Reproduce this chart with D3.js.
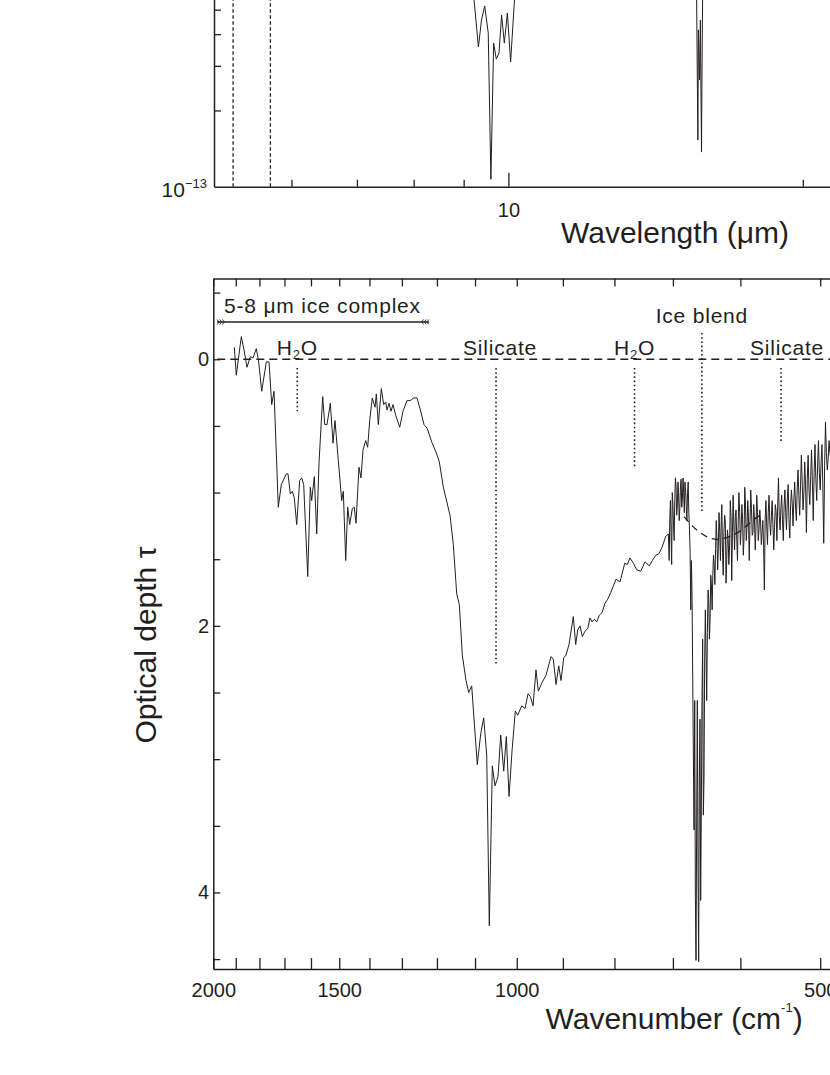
<!DOCTYPE html>
<html>
<head>
<meta charset="utf-8">
<script src="https://cdn.jsdelivr.net/npm/d3@7"></script>
<style>
  body { margin: 0; background: #fff; }
  svg { display: block; }
  text { font-family: 'Liberation Sans', Arial, sans-serif; fill: #231f20; }
</style>
</head>
<body>
<svg id="chart" width="830" height="1075"></svg>
<script>
(function(){
// ---- top panel: flux spectrum (only the deepest dips reach the visible part)
var wavelengthTicks = [6, 7, 8, 9, 10, 20];
var wavelengthLabels = [10];
var fluxTicks = [2e-13, 3e-13, 4e-13, 5e-13];
var markerLambda = [5.23, 5.71];
var silicateLambda = [9.203, 9.318, 9.386, 9.457, 9.536, 9.596, 9.658, 9.719, 9.781, 9.841, 9.904, 9.976, 10.052, 10.159];
var silicateFlux = [5.98, 3.56, 4.55, 5.17, 4.05, 1.07, 3.69, 3.19, 3.37, 4.76, 3.69, 4.85, 3.11, 5.98];
var co2Lambda = [15.574, 15.604, 15.622, 15.640, 15.685, 15.714, 15.755, 15.777, 15.799];
var co2Flux = [5.98, 2.45, 1.53, 4.16, 2.64, 4.55, 1.37, 3.16, 5.98];

// ---- bottom panel: optical depth
var wavenumberTicks = [2000, 1900, 1800, 1700, 1600, 1500, 1400, 1300, 1200, 1100, 1000, 900, 800, 700, 600, 500];
var wavenumberLabels = [2000, 1500, 1000, 500];
var tauTicks = [-0.5, 0, 0.5, 1, 1.5, 2, 2.5, 3, 3.5, 4, 4.5];
var tauLabels = [0, 2, 4];

var wavenumber = [1906.3, 1897.6, 1876.1, 1864.5, 1851.8, 1837.9, 1826.6, 1812.9, 1803.0, 1790.7,
  1771.9, 1761.0, 1750.2, 1741.0, 1724.0, 1712.3, 1692.8, 1686.2, 1677.4, 1669.8,
  1662.2, 1653.1, 1641.8, 1634.3, 1626.9, 1612.0, 1602.5, 1597.4, 1587.9, 1579.2,
  1571.0, 1557.8, 1550.6, 1542.5, 1530.9, 1521.5, 1514.6, 1503.2, 1491.6, 1486.1,
  1478.0, 1471.3, 1464.6, 1455.9, 1449.3, 1443.7, 1433.8, 1427.3, 1420.7, 1412.0,
  1405.6, 1399.2, 1390.9, 1382.3, 1378.2, 1371.9, 1362.6, 1355.1, 1348.9, 1345.0,
  1338.8, 1332.7, 1326.7, 1318.5, 1306.5, 1296.7, 1284.9, 1275.3, 1265.4, 1255.9,
  1247.3, 1235.9, 1226.7, 1214.4, 1200.6, 1193.5, 1182.6, 1164.7, 1155.9, 1147.0,
  1140.2, 1132.4, 1122.9, 1116.0, 1108.4, 1101.8, 1094.3, 1085.8, 1078.4, 1071.0,
  1064.7, 1057.4, 1050.9, 1043.7, 1037.3, 1030.2, 1024.1, 1017.8, 1010.9, 1003.3,
  997.8, 988.7, 981.3, 974.6, 969.5, 963.5, 957.0, 951.9, 944.6, 935.3,
  924.7, 919.9, 914.2, 908.6, 903.8, 898.3, 893.6, 887.5, 878.8, 874.0,
  870.0, 865.4, 860.9, 855.6, 850.3, 845.9, 842.0, 837.6, 833.0, 828.1,
  823.0, 817.4, 812.4, 806.8, 802.0, 797.1, 789.9, 781.4, 776.8, 772.0,
  766.2, 760.3, 753.4, 746.0, 738.7, 733.7, 728.0, 723.0, 717.6, 711.6, 707.3];
var tau = [-0.09, 0.12, -0.17, -0.07, 0.06, -0.02, -0.01, -0.08, 0.02, 0.24,
  0.02, 0.02, 0.34, 0.24, 1.11, 0.94, 0.86, 0.86, 1.01, 0.99,
  1.04, 1.24, 0.91, 0.89, 0.94, 1.63, 0.96, 1.06, 0.88, 1.31,
  0.78, 0.28, 0.49, 0.49, 0.33, 0.63, 0.46, 0.76, 1.06, 0.99,
  1.51, 1.11, 1.24, 1.12, 1.11, 1.23, 0.81, 0.89, 0.68, 0.61,
  0.66, 0.46, 0.29, 0.36, 0.26, 0.49, 0.22, 0.34, 0.32, 0.38,
  0.33, 0.39, 0.34, 0.42, 0.51, 0.39, 0.31, 0.31, 0.29, 0.29,
  0.37, 0.49, 0.52, 0.62, 0.71, 0.77, 0.96, 1.17, 1.39, 1.76,
  1.84, 2.22, 2.41, 2.50, 2.45, 2.73, 3.04, 2.81, 2.69, 2.97,
  4.25, 3.05, 3.20, 3.13, 2.82, 3.09, 2.83, 3.28, 2.94, 2.64,
  2.67, 2.60, 2.62, 2.51, 2.53, 2.60, 2.33, 2.49, 2.43, 2.37,
  2.23, 2.25, 2.44, 2.30, 2.41, 2.24, 2.22, 2.14, 1.93, 2.14,
  2.03, 2.00, 2.08, 2.04, 2.02, 1.94, 1.97, 1.95, 1.97, 1.92,
  1.90, 1.83, 1.80, 1.75, 1.70, 1.65, 1.67, 1.53, 1.54, 1.49,
  1.53, 1.58, 1.59, 1.52, 1.55, 1.51, 1.47, 1.46, 1.41, 1.33, 1.31];

// noisy long-wavelength part of the spectrum (1 cm-1 sampling)
var noisyWavenumber = [706, 705, 704, 703, 702, 701, 700, 699, 698, 697,
  696, 695, 694, 693, 692, 691, 690, 689, 688, 687,
  686, 685, 684, 683, 682, 681, 680, 679, 678, 677,
  676, 675, 674, 673, 672, 671, 670, 669, 668, 667,
  666, 665, 664, 663, 662, 661, 660, 659, 658, 657,
  656, 655, 654, 653, 652, 651, 650, 649, 648, 647,
  646, 645, 644, 643, 642, 641, 640, 639, 638, 637,
  636, 635, 634, 633, 632, 631, 630, 629, 628, 627,
  626, 625, 624, 623, 622, 621, 620, 619, 618, 617,
  616, 615, 614, 613, 612, 611, 610, 609, 608, 607,
  606, 605, 604, 603, 602, 601, 600, 599, 598, 597,
  596, 595, 594, 593, 592, 591, 590, 589, 588, 587,
  586, 585, 584, 583, 582, 581, 580, 579, 578, 577,
  576, 575, 574, 573, 572, 571, 570, 569, 568, 567,
  566, 565, 564, 563, 562, 561, 560, 559, 558, 557,
  556, 555, 554, 553, 552, 551, 550, 549, 548, 547,
  546, 545, 544, 543, 542, 541, 540, 539, 538, 537,
  536, 535, 534, 533, 532, 531, 530, 529, 528, 527,
  526, 525, 524, 523, 522, 521, 520, 519, 518, 517,
  516, 515, 514, 513, 512, 511, 510, 509, 508, 507,
  506, 505, 504, 503, 502, 501, 500, 499, 498, 497,
  496, 495, 494, 493, 492, 491, 490, 489, 488];
var noisyTau = [1.51, 1.20, 1.06, 1.30, 1.54, 1.00, 1.09, 1.25, 1.36, 1.05,
  0.89, 0.95, 1.17, 1.10, 0.92, 1.00, 1.21, 1.12, 0.95, 0.90,
  1.11, 1.05, 0.89, 1.00, 1.15, 0.92, 0.98, 1.10, 1.21, 1.00,
  0.92, 1.15, 1.28, 1.45, 1.88, 1.51, 1.81, 2.40, 3.00, 3.53,
  2.56, 4.04, 4.51, 3.45, 2.56, 3.83, 4.52, 3.15, 2.70, 4.06,
  3.38, 2.56, 2.10, 3.42, 3.15, 2.25, 1.88, 2.20, 2.56, 2.05,
  1.73, 1.80, 2.10, 1.95, 1.62, 1.70, 1.88, 1.62, 1.47, 1.55,
  1.69, 1.42, 1.21, 1.35, 1.58, 1.40, 1.15, 1.30, 1.51, 1.25,
  1.09, 1.45, 1.62, 1.30, 1.17, 1.22, 1.68, 1.50, 1.28, 1.35,
  1.54, 1.40, 1.06, 1.18, 1.66, 1.30, 1.02, 1.25, 1.43, 1.18,
  1.13, 1.35, 1.51, 1.22, 1.00, 1.15, 1.39, 1.28, 1.09, 1.20,
  1.47, 1.33, 0.96, 1.10, 1.36, 1.26, 1.06, 1.18, 1.51, 1.24,
  0.98, 1.12, 1.32, 1.30, 1.09, 1.20, 1.43, 1.26, 1.02, 1.15,
  1.36, 1.28, 1.13, 1.22, 1.39, 1.30, 1.21, 1.40, 1.73, 1.20,
  1.06, 1.25, 1.39, 1.15, 1.02, 1.22, 1.32, 1.18, 1.06, 1.24,
  1.43, 1.26, 1.09, 1.14, 1.36, 1.10, 0.89, 1.18, 1.28, 1.12,
  1.02, 1.20, 1.36, 1.10, 0.98, 1.15, 1.28, 1.05, 0.94, 1.20,
  1.34, 1.10, 0.98, 1.08, 1.25, 1.05, 0.92, 1.10, 1.21, 0.98,
  0.83, 1.02, 1.17, 0.95, 0.72, 0.92, 1.13, 1.00, 0.77, 0.95,
  1.30, 0.90, 0.72, 0.98, 1.09, 0.88, 0.68, 0.92, 1.21, 0.85,
  0.64, 0.90, 1.06, 0.80, 0.61, 0.85, 0.98, 0.78, 0.64, 0.95,
  1.38, 0.80, 0.47, 0.70, 0.83, 0.75, 0.61, 0.70, 0.76];

// assumed continuum under the ice blend
var continuumWavenumber = [682.5, 668.5, 658, 646, 631.5, 614.5, 599, 584.5, 573.7];
var continuumTau = [1.18, 1.26, 1.30, 1.34, 1.36, 1.33, 1.29, 1.21, 1.17];

// feature markers
var featureNames = ['H2O', 'Silicate', 'H2O', 'Ice blend', 'Silicate'];
var featureWavenumber = [1651, 1048.5, 764.1, 655.2, 546.8];
var featureTauTop = [0.065, 0.065, 0.065, -0.197, 0.065];
var featureTauBottom = [0.39, 2.30, 0.81, 1.15, 0.63];
var iceComplexRange = [1983, 1222];

var ink = '#231f20';
var svg = d3.select('#chart');
svg.append('rect').attr('width', 830).attr('height', 1075).attr('fill', '#fff');

// ================= top panel =================
var xTop = d3.scaleLog().domain([5, 25]).range([214, 897.6]);
var yTop = d3.scaleLog().domain([1e-13, 1e-12]).range([186.7, -66.6]);
var top = svg.append('g');

top.selectAll('line.marker').data(markerLambda).enter()
  .append('line')
  .attr('x1', function(d){ return xTop(d); }).attr('x2', function(d){ return xTop(d); })
  .attr('y1', yTop(1e-13)).attr('y2', -10)
  .attr('stroke', ink).attr('stroke-width', 1.3).attr('stroke-dasharray', '3.5,2.5');

var fluxLine = d3.line()
  .x(function(d){ return xTop(d[0]); })
  .y(function(d){ return yTop(d[1] * 1e-13); });
[[silicateLambda, silicateFlux], [co2Lambda, co2Flux]].forEach(function(seg){
  top.append('path')
    .datum(d3.zip(seg[0], seg[1]))
    .attr('d', fluxLine)
    .attr('fill', 'none').attr('stroke', ink).attr('stroke-width', 1);
});

var topX = top.append('g')
  .attr('transform', 'translate(0,' + yTop(1e-13) + ')')
  .call(d3.axisBottom(xTop).tickValues(wavelengthTicks).tickSize(-7).tickSizeOuter(0).tickPadding(16)
    .tickFormat(function(d){ return wavelengthLabels.indexOf(d) >= 0 ? d : ''; }));
topX.attr('color', ink).attr('font-size', 20).attr('font-family', null);
topX.select('.domain').attr('stroke-width', 1.5);
topX.selectAll('.tick line').attr('stroke-width', 1.3)
  .attr('y2', function(d){ return wavelengthLabels.indexOf(d) >= 0 ? -14 : -7; });

var topY = top.append('g')
  .attr('transform', 'translate(' + xTop(5) + ',0)')
  .call(d3.axisLeft(yTop).tickValues(fluxTicks).tickSize(-7).tickSizeOuter(0).tickFormat(''));
topY.attr('color', ink);
topY.select('.domain').attr('stroke-width', 1.5);
topY.selectAll('.tick line').attr('stroke-width', 1.3);

var expLabel = top.append('text').attr('x', 207).attr('y', 197).attr('text-anchor', 'end').attr('font-size', 21);
expLabel.append('tspan').text('10');
expLabel.append('tspan').attr('font-size', 13).attr('dy', -9).text('\u221213');

top.append('text').attr('x', 561).attr('y', 243).attr('font-size', 30).text('Wavelength (\u03bcm)');

// ================= bottom panel =================
var xBot = d3.scaleLog().domain([2000, 470]).range([213.3, 847.3]);
var yBot = d3.scaleLinear().domain([-0.606, 4.575]).range([278.5, 969.1]);
var bot = svg.append('g');

// zero line
bot.append('line')
  .attr('x1', xBot(2000) + 4).attr('x2', xBot(470))
  .attr('y1', yBot(0)).attr('y2', yBot(0))
  .attr('stroke', ink).attr('stroke-width', 1.4).attr('stroke-dasharray', '8,5');

// feature markers
bot.selectAll('line.feature').data(featureWavenumber).enter()
  .append('line')
  .attr('x1', function(d){ return xBot(d); }).attr('x2', function(d){ return xBot(d); })
  .attr('y1', function(d, i){ return yBot(featureTauTop[i]); })
  .attr('y2', function(d, i){ return yBot(featureTauBottom[i]); })
  .attr('stroke', ink).attr('stroke-width', 1.6).attr('stroke-dasharray', '1.6,2.6');

var labelShift = [0, 4, 0, 0, 6];
var labelBase = [355, 355, 355, 323.3, 355];
featureNames.forEach(function(name, i){
  var t = bot.append('text')
    .attr('x', xBot(featureWavenumber[i]) + labelShift[i])
    .attr('y', labelBase[i])
    .attr('text-anchor', 'middle')
    .attr('font-size', 21)
    .attr('letter-spacing', 0.8);
  if (name === 'H2O') {
    t.append('tspan').text('H');
    t.append('tspan').attr('font-size', 13).attr('dy', 4).text('2');
    t.append('tspan').attr('dy', -4).text('O');
  } else {
    t.text(name);
  }
});

// 5-8 micron ice complex bar
var barY = 322;
var bx0 = xBot(iceComplexRange[0]), bx1 = xBot(iceComplexRange[1]);
bot.append('line').attr('x1', bx0).attr('x2', bx1).attr('y1', barY).attr('y2', barY)
  .attr('stroke', ink).attr('stroke-width', 1.3);
[0, 1, 2].forEach(function(k){
  var a = bx0 + k * 2.7, b = bx1 - k * 2.7;
  bot.append('path').attr('d', 'M' + a + ',' + (barY - 2.5) + 'L' + (a + 2) + ',' + barY + 'L' + a + ',' + (barY + 2.5))
    .attr('fill', 'none').attr('stroke', ink).attr('stroke-width', 0.9);
  bot.append('path').attr('d', 'M' + b + ',' + (barY - 2.5) + 'L' + (b - 2) + ',' + barY + 'L' + b + ',' + (barY + 2.5))
    .attr('fill', 'none').attr('stroke', ink).attr('stroke-width', 0.9);
});
bot.append('text').attr('x', 224).attr('y', 313.3).attr('font-size', 21).attr('letter-spacing', 0.8)
  .text('5-8 \u03bcm ice complex');

// continuum
bot.append('path')
  .datum(d3.zip(continuumWavenumber, continuumTau))
  .attr('d', d3.line().curve(d3.curveBasis)
    .x(function(d){ return xBot(d[0]); }).y(function(d){ return yBot(d[1]); }))
  .attr('fill', 'none').attr('stroke', ink).attr('stroke-width', 1.3).attr('stroke-dasharray', '7,5');

// spectrum
var spectrum = d3.zip(wavenumber.concat(noisyWavenumber), tau.concat(noisyTau));
bot.append('path')
  .datum(spectrum)
  .attr('d', d3.line().x(function(d){ return xBot(d[0]); }).y(function(d){ return yBot(d[1]); }))
  .attr('fill', 'none').attr('stroke', ink).attr('stroke-width', 1).attr('stroke-linejoin', 'round');

// axes
var botX = bot.append('g')
  .attr('transform', 'translate(0,' + yBot(4.575) + ')')
  .call(d3.axisBottom(xBot).tickValues(wavenumberTicks).tickSize(-11).tickSizeOuter(0).tickPadding(13.4)
    .tickFormat(function(d){ return wavenumberLabels.indexOf(d) >= 0 ? d : ''; }));
botX.attr('color', ink).attr('font-size', 20).attr('font-family', null);
botX.select('.domain').attr('stroke-width', 1.5);
botX.selectAll('.tick line').attr('stroke-width', 1.3);

var botTop = bot.append('g')
  .attr('transform', 'translate(0,' + yBot(-0.606) + ')')
  .call(d3.axisTop(xBot).tickValues(wavenumberTicks).tickSize(-8).tickSizeOuter(0).tickFormat(''));
botTop.attr('color', ink);
botTop.select('.domain').attr('stroke-width', 1.5);
botTop.selectAll('.tick line').attr('stroke-width', 1.3);

var botY = bot.append('g')
  .attr('transform', 'translate(' + xBot(2000) + ',0)')
  .call(d3.axisLeft(yBot).tickValues(tauTicks).tickSize(-7).tickSizeOuter(0).tickPadding(4.3)
    .tickFormat(function(d){ return tauLabels.indexOf(d) >= 0 ? d : ''; }));
botY.attr('color', ink).attr('font-size', 20).attr('font-family', null);
botY.select('.domain').attr('stroke-width', 1.5);
botY.selectAll('.tick line').attr('stroke-width', 1.3);

var xTitle = bot.append('text').attr('x', 545.5).attr('y', 1029).attr('font-size', 30);
xTitle.append('tspan').text('Wavenumber (cm');
xTitle.append('tspan').attr('font-size', 13).attr('dy', -17).text('-1');
xTitle.append('tspan').attr('dy', 17).text(')');

bot.append('text')
  .attr('transform', 'translate(156,645) rotate(-90)')
  .attr('text-anchor', 'middle').attr('font-size', 30)
  .text('Optical depth \u03c4');
}).call(this);
</script>
</body>
</html>
